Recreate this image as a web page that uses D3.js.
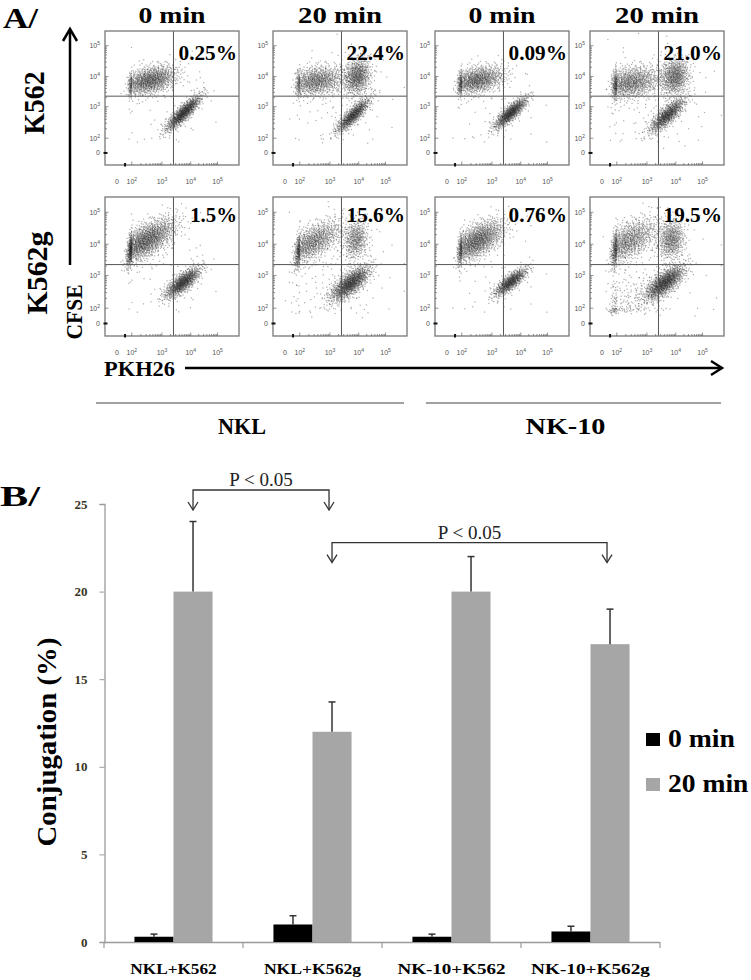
<!DOCTYPE html>
<html>
<head>
<meta charset="utf-8">
<script src="https://cdn.jsdelivr.net/npm/d3@7"></script>
<style>
body{margin:0;background:#fff}
svg{display:block}
</style>
</head>
<body>
<script>
var serif = "'Liberation Serif','Times New Roman',Times,serif";
var sans = "'Liberation Sans',Arial,sans-serif";

// ---------- panel A : flow plots ----------
var colHeaders = ["0 min", "20 min", "0 min", "20 min"];
var rowLabels = ["K562", "K562g"];
var cellGroups = ["NKL", "NK-10"];
var gatePct = [["0.25%", "22.4%", "0.09%", "21.0%"], ["1.5%", "15.6%", "0.76%", "19.5%"]];
var logTicks = [0, 2, 3, 4, 5];
var gateX = 3.4, gateY = 3.35;
// populations: [row, col, centreX, centreY, sdMajor, sdMinor, angle, count] (decades)
var clusters = [
  [0,0, 2.6,3.87, 0.48,0.22, 15, 1100], [0,0, 3.75,2.8, 0.42,0.11, 42, 900], [0,0, 3.2,3.2, 1.0,0.8, 0, 50],
  [0,1, 2.55,3.85, 0.48,0.24, 10, 900], [0,1, 3.95,4.0, 0.32,0.24, 70, 700], [0,1, 3.8,2.72, 0.4,0.11, 42, 750], [0,1, 3.3,3.3, 1.0,0.8, 0, 100],
  [0,2, 2.5,3.88, 0.48,0.22, 12, 1000], [0,2, 3.65,2.8, 0.38,0.11, 40, 800], [0,2, 3.0,3.0, 1.0,0.8, 0, 40],
  [0,3, 2.45,3.8, 0.52,0.26, 10, 1000], [0,3, 3.97,4.0, 0.32,0.26, 70, 700], [0,3, 3.7,2.72, 0.4,0.13, 40, 800], [0,3, 3.2,3.2, 1.1,0.9, 0, 120],
  [1,0, 2.45,4.1, 0.58,0.24, 30, 1500], [1,0, 3.72,2.78, 0.38,0.13, 35, 900], [1,0, 3.2,3.2, 1.0,0.8, 0, 60],
  [1,1, 2.4,4.05, 0.58,0.24, 30, 1000], [1,1, 3.9,4.15, 0.32,0.22, 80, 450], [1,1, 3.7,2.75, 0.42,0.16, 35, 1100], [1,1, 3.0,3.0, 1.1,0.9, 0, 150],
  [1,2, 2.5,4.1, 0.52,0.24, 30, 1300], [1,2, 3.65,2.8, 0.35,0.11, 35, 700], [1,2, 3.0,3.0, 1.0,0.8, 0, 40],
  [1,3, 2.35,4.08, 0.58,0.27, 30, 1000], [1,3, 3.85,4.15, 0.32,0.24, 80, 550], [1,3, 3.62,2.78, 0.42,0.16, 35, 1100], [1,3, 2.3,2.2, 0.7,0.4, 20, 200], [1,3, 3.2,3.2, 1.1,0.9, 0, 100]
];

// ---------- panel B : bar chart ----------
var categories = ["NKL+K562", "NKL+K562g", "NK-10+K562", "NK-10+K562g"];
var series = ["0 min", "20 min"];
var mean0 = [0.3, 1.0, 0.3, 0.6];
var err0 = [0.15, 0.5, 0.15, 0.3];
var mean20 = [20, 12, 20, 17];
var err20 = [4, 1.7, 2, 2];
var yTicksB = [0, 5, 10, 15, 20, 25];
var sigPairs = [[0, 1], [1, 3]];
var sigLevel = [25.8, 22.8];
var sigText = "P < 0.05";

var svg = d3.select("body").append("svg").attr("width", 751).attr("height", 980);

// layout of the dot plots
var colLeft = [105, 273, 435, 590], plotW = 134;
var rowTop = [31, 197], rowH = [134, 139];
var xDec = d3.scaleLinear().domain([-1, 0, 2, 3, 4, 5, 5.8]).range([0, 0.09, 0.2, 0.425, 0.64, 0.84, 1]);
var yDec = d3.scaleLinear().domain([-0.8, 0, 2, 3, 4, 5, 5.48]).range([1, 0.91, 0.8, 0.565, 0.34, 0.11, 0]);

function halton(i, b) {
  var f = 1, r = 0;
  while (i > 0) { f /= b; r += f * (i % b); i = Math.floor(i / b); }
  return r;
}

svg.append("text").attr("x", 3).attr("y", 28).text("A/")
  .attr("font-family", serif).attr("font-weight", "bold").attr("font-size", 29)
  .attr("textLength", 35).attr("lengthAdjust", "spacingAndGlyphs");

colHeaders.forEach(function(h, c) {
  svg.append("text").attr("x", colLeft[c] + plotW / 2).attr("y", 23).attr("text-anchor", "middle").text(h)
    .attr("font-family", serif).attr("font-weight", "bold").attr("font-size", 24)
    .attr("textLength", h.length > 5 ? 84 : 67).attr("lengthAdjust", "spacingAndGlyphs");
});

rowLabels.forEach(function(r, i) {
  var plots = svg.append("g");
  colHeaders.forEach(function(h, c) {
    var w = plotW, hh = rowH[i];
    var x = d3.scaleLinear().domain([0, 1]).range([0, w]);
    var y = d3.scaleLinear().domain([0, 1]).range([0, hh]);
    var g = plots.append("g").attr("transform", "translate(" + colLeft[c] + "," + rowTop[i] + ")");

    var pts = [];
    clusters.filter(function(k) { return k[0] === i && k[1] === c; }).forEach(function(k, ki) {
      var a = k[6] * Math.PI / 180;
      for (var n = 0; n < k[7]; n++) {
        var idx = n + 1 + ki * 4000 + c * 37;
        var u1 = halton(idx, 2), u2 = halton(idx, 3);
        var rr = Math.sqrt(-2 * Math.log(Math.max(u1, 1e-6)));
        var z0 = rr * Math.cos(2 * Math.PI * u2) * k[4], z1 = rr * Math.sin(2 * Math.PI * u2) * k[5];
        var vx = k[2] + z0 * Math.cos(a) - z1 * Math.sin(a);
        var vy = k[3] + z0 * Math.sin(a) + z1 * Math.cos(a);
        vx = Math.max(-0.9, Math.min(5.7, vx));
        vy = Math.max(-0.7, Math.min(5.4, vy));
        pts.push([vx, vy]);
      }
    });

    g.selectAll("rect.dot").data(pts).enter().append("rect").attr("class", "dot")
      .attr("x", function(d) { return x(xDec(d[0])) - 0.6; })
      .attr("y", function(d) { return y(yDec(d[1])) - 0.6; })
      .attr("width", 1.2).attr("height", 1.2)
      .attr("fill", "#1a1a1a").attr("fill-opacity", 0.36);

    // gate lines
    g.append("line").attr("x1", x(xDec(gateX))).attr("x2", x(xDec(gateX))).attr("y1", 0).attr("y2", hh)
      .attr("stroke", "#555").attr("stroke-width", 1);
    g.append("line").attr("x1", 0).attr("x2", w).attr("y1", y(yDec(gateY))).attr("y2", y(yDec(gateY)))
      .attr("stroke", "#555").attr("stroke-width", 1);

    g.append("rect").attr("width", w).attr("height", hh).attr("fill", "none")
      .attr("stroke", "#777").attr("stroke-width", 1.3);

    // minor ticks
    var minor = [];
    [2, 3, 4].forEach(function(d) { for (var m = 1; m < 10; m++) minor.push(d + Math.log10(m)); });
    minor.push(5);
    g.selectAll("line.mx").data(minor).enter().append("line")
      .attr("x1", function(d) { return x(xDec(d)); }).attr("x2", function(d) { return x(xDec(d)); })
      .attr("y1", hh).attr("y2", function(d) { return hh - (d % 1 === 0 ? 3.5 : 2); })
      .attr("stroke", "#666").attr("stroke-width", 0.7);
    g.selectAll("line.my").data(minor).enter().append("line")
      .attr("y1", function(d) { return y(yDec(d)); }).attr("y2", function(d) { return y(yDec(d)); })
      .attr("x1", 0).attr("x2", function(d) { return d % 1 === 0 ? 3.5 : 2; })
      .attr("stroke", "#666").attr("stroke-width", 0.7);
    g.append("line").attr("x1", -1.5).attr("x2", 2.5).attr("y1", y(yDec(0))).attr("y2", y(yDec(0)))
      .attr("stroke", "#111").attr("stroke-width", 2);
    g.append("line").attr("x1", x(xDec(0)) + 8).attr("x2", x(xDec(0)) + 8).attr("y1", hh + 1.5).attr("y2", hh - 2)
      .attr("stroke", "#111").attr("stroke-width", 2);

    // tick labels
    logTicks.forEach(function(t) {
      var ty = g.append("text").attr("x", -5).attr("y", y(yDec(t)) + 2.5).attr("text-anchor", "end")
        .attr("font-family", sans).attr("font-size", 7).attr("fill", "#555");
      var tx = g.append("text").attr("x", x(xDec(t))).attr("y", hh + 19).attr("text-anchor", "middle")
        .attr("font-family", sans).attr("font-size", 7).attr("fill", "#555");
      [ty, tx].forEach(function(s) {
        if (t === 0) { s.text("0"); }
        else {
          s.append("tspan").text("10");
          s.append("tspan").attr("dy", -3).attr("font-size", 5).text(t);
        }
      });
    });

    var p = gatePct[i][c];
    g.append("text").attr("x", w - 2).attr("y", i === 0 ? 29 : 25).attr("text-anchor", "end").text(p)
      .attr("font-family", serif).attr("font-weight", "bold").attr("font-size", 21)
      .attr("textLength", p.length * 11.7).attr("lengthAdjust", "spacingAndGlyphs");
  });

  svg.append("text").attr("transform", "translate(" + (i === 0 ? 44 : 47) + "," + (i === 0 ? 103 : 273) + ") rotate(-90)")
    .attr("text-anchor", "middle").text(r)
    .attr("font-family", serif).attr("font-weight", "bold").attr("font-size", 30)
    .attr("textLength", i === 0 ? 63 : 83).attr("lengthAdjust", "spacingAndGlyphs");
});

// axis arrows
svg.append("line").attr("x1", 70).attr("x2", 70).attr("y1", 265).attr("y2", 30)
  .attr("stroke", "#000").attr("stroke-width", 2.5);
svg.append("path").attr("d", "M63,41L70,29L77,41").attr("fill", "none").attr("stroke", "#000").attr("stroke-width", 2.5);
svg.append("line").attr("x1", 185).attr("x2", 721).attr("y1", 368).attr("y2", 368)
  .attr("stroke", "#000").attr("stroke-width", 2.5);
svg.append("path").attr("d", "M711,361L722,368L711,375").attr("fill", "none").attr("stroke", "#000").attr("stroke-width", 2.5);

svg.append("text").attr("transform", "translate(82,312) rotate(-90)").attr("text-anchor", "middle").text("CFSE")
  .attr("font-family", serif).attr("font-weight", "bold").attr("font-size", 24)
  .attr("textLength", 55).attr("lengthAdjust", "spacingAndGlyphs");
svg.append("text").attr("x", 104).attr("y", 376).text("PKH26")
  .attr("font-family", serif).attr("font-weight", "bold").attr("font-size", 22)
  .attr("textLength", 71).attr("lengthAdjust", "spacingAndGlyphs");

cellGroups.forEach(function(gname, gi) {
  var x1 = colLeft[gi * 2] - 9, x2 = colLeft[gi * 2 + 1] + plotW - 3;
  svg.append("line").attr("x1", x1).attr("x2", x2).attr("y1", 403).attr("y2", 403)
    .attr("stroke", "#444").attr("stroke-width", 1.2);
  svg.append("text").attr("x", (x1 + x2) / 2 - 8).attr("y", 434).attr("text-anchor", "middle").text(gname)
    .attr("font-family", serif).attr("font-weight", "bold").attr("font-size", 23)
    .attr("textLength", gname.length * 16).attr("lengthAdjust", "spacingAndGlyphs");
});

// ---------- panel B ----------
svg.append("text").attr("x", 0).attr("y", 506).text("B/")
  .attr("font-family", serif).attr("font-weight", "bold").attr("font-size", 30)
  .attr("textLength", 40).attr("lengthAdjust", "spacingAndGlyphs");

var xB = d3.scaleBand().domain(categories).range([104, 660]);
var xS = d3.scaleBand().domain(series).range([0, xB.bandwidth()]).paddingOuter(0.78);
var yB = d3.scaleLinear().domain([0, 25]).range([942, 504]);
var colour = d3.scaleOrdinal().domain(series).range(["#000", "#a6a6a6"]);

var yAx = svg.append("g").attr("transform", "translate(104.5,0)")
  .call(d3.axisLeft(yB).tickValues(yTicksB).tickSize(5).tickPadding(12));
yAx.select(".domain").attr("stroke", "#9a9a9a").attr("stroke-width", 1.3);
yAx.selectAll(".tick line").attr("stroke", "#9a9a9a");
yAx.selectAll(".tick text").attr("font-family", serif).attr("font-weight", "bold").attr("font-size", 13).attr("fill", "#3a3322");

svg.append("line").attr("x1", 104).attr("x2", 660).attr("y1", 942.5).attr("y2", 942.5)
  .attr("stroke", "#9a9a9a").attr("stroke-width", 1.3);
var edges = categories.map(function(c) { return xB(c); }).concat([xB.range()[1]]);
svg.selectAll("line.xt").data(edges).enter().append("line")
  .attr("x1", function(d) { return d; }).attr("x2", function(d) { return d; })
  .attr("y1", 942).attr("y2", 948).attr("stroke", "#9a9a9a").attr("stroke-width", 1.2);
svg.selectAll("text.xl").data(categories).enter().append("text")
  .attr("x", function(d) { return xB(d) + xB.bandwidth() / 2; }).attr("y", 974)
  .attr("text-anchor", "middle").text(function(d) { return d; })
  .attr("font-family", serif).attr("font-weight", "bold").attr("font-size", 15)
  .attr("textLength", function(d) { return d.length * 10.8; }).attr("lengthAdjust", "spacingAndGlyphs");

var barData = [];
categories.forEach(function(c, i) {
  barData.push({cat: c, s: series[0], v: mean0[i], e: err0[i]});
  barData.push({cat: c, s: series[1], v: mean20[i], e: err20[i]});
});
svg.selectAll("rect.bar").data(barData).enter().append("rect")
  .attr("x", function(d) { return xB(d.cat) + xS(d.s); })
  .attr("y", function(d) { return yB(d.v); })
  .attr("width", xS.bandwidth())
  .attr("height", function(d) { return yB(0) - yB(d.v); })
  .attr("fill", function(d) { return colour(d.s); });
var eb = svg.selectAll("g.err").data(barData).enter().append("g")
  .attr("transform", function(d) { return "translate(" + (xB(d.cat) + xS(d.s) + xS.bandwidth() / 2) + ",0)"; });
eb.append("line").attr("y1", function(d) { return yB(d.v); }).attr("y2", function(d) { return yB(d.v + d.e); })
  .attr("stroke", "#333").attr("stroke-width", 1.5);
eb.append("line").attr("x1", -3.5).attr("x2", 3.5)
  .attr("y1", function(d) { return yB(d.v + d.e); }).attr("y2", function(d) { return yB(d.v + d.e); })
  .attr("stroke", "#333").attr("stroke-width", 1.5);

// significance brackets
sigPairs.forEach(function(p, k) {
  var xa = xB(categories[p[0]]) + xS(series[1]) + xS.bandwidth() / 2;
  var xb = xB(categories[p[1]]) + xS(series[1]) + xS.bandwidth() / 2 - 3;
  var yl = yB(sigLevel[k]), yt = yl + 20;
  svg.append("path").attr("d", "M" + xa + "," + yt + "V" + yl + "H" + xb + "V" + yt)
    .attr("fill", "none").attr("stroke", "#333").attr("stroke-width", 1.3);
  [xa, xb].forEach(function(xx) {
    svg.append("path").attr("d", "M" + (xx - 5) + "," + (yt - 8) + "L" + xx + "," + yt + "L" + (xx + 5) + "," + (yt - 8))
      .attr("fill", "none").attr("stroke", "#333").attr("stroke-width", 1.3);
  });
  svg.append("text").attr("x", (xa + xb) / 2).attr("y", yl - 4).attr("text-anchor", "middle").text(sigText)
    .attr("font-family", serif).attr("font-size", 19).attr("fill", "#222");
});

svg.append("text").attr("transform", "translate(56,742) rotate(-90)").attr("text-anchor", "middle").text("Conjugation (%)")
  .attr("font-family", serif).attr("font-weight", "bold").attr("font-size", 27)
  .attr("textLength", 209).attr("lengthAdjust", "spacingAndGlyphs");

// legend
series.forEach(function(s, i) {
  var ly = 733 + i * 45;
  svg.append("rect").attr("x", 646).attr("y", ly).attr("width", 14).attr("height", 13).attr("fill", colour(s));
  svg.append("text").attr("x", 668).attr("y", ly + 14).text(s)
    .attr("font-family", serif).attr("font-weight", "bold").attr("font-size", 25)
    .attr("textLength", s.length * 13.4).attr("lengthAdjust", "spacingAndGlyphs");
});
</script>
</body>
</html>
